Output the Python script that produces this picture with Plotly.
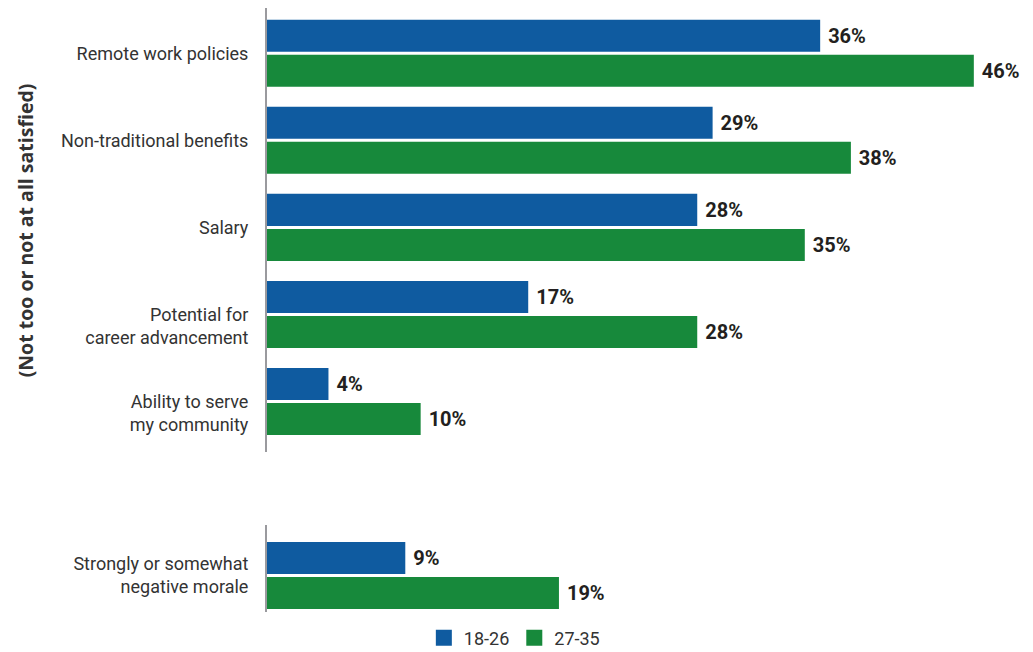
import plotly.graph_objects as go

# Survey results: share answering "not too / not at all satisfied", by age group
categories = [
    "Remote work policies",
    "Non-traditional benefits",
    "Salary",
    "<br>Potential for<br>career advancement",
    "<br>Ability to serve<br>my community",
]
young = [36, 29, 28, 17, 4]      # ages 18-26
older = [46, 38, 35, 28, 10]     # ages 27-35

morale_category = ["Strongly or somewhat<br>negative morale"]
morale_young = [9]
morale_older = [19]

series_names = ["18-26", "27-35"]
BLUE = "#0F5BA0"
GREEN = "#17893B"
LABEL_FONT = "Roboto, sans-serif"
TITLE_FONT = "Open Sans, Noto Sans, sans-serif"

fig = go.Figure()


def add_bars(ys, vals, color, name, yaxis, xaxis):
    fig.add_trace(go.Bar(
        y=ys, x=vals, orientation="h", name=name,
        marker=dict(color=color, line=dict(width=0)),
        text=[f"\u00a0{v}%" for v in vals],
        textposition="outside", constraintext="none", cliponaxis=False,
        textfont=dict(family=LABEL_FONT, size=20, color="#231F20", weight="bold"),
        xaxis=xaxis, yaxis=yaxis, showlegend=False, hoverinfo="skip",
    ))


add_bars(categories, young, BLUE, series_names[0], "y", "x")
add_bars(categories, older, GREEN, series_names[1], "y", "x")
add_bars(morale_category, morale_young, BLUE, series_names[0], "y2", "x2")
add_bars(morale_category, morale_older, GREEN, series_names[1], "y2", "x2")

# legend entries with larger square swatches
for name, color in zip(series_names, [BLUE, GREEN]):
    fig.add_trace(go.Scatter(
        x=[None], y=[None], mode="markers", name=name,
        marker=dict(symbol="square", size=16, color=color),
        xaxis="x", yaxis="y", showlegend=True,
    ))

axis_common = dict(
    showline=True, linecolor="#9A9A9E", linewidth=2, showgrid=False,
    zeroline=False, ticks="", ticklabelstandoff=13,
    tickfont=dict(family=LABEL_FONT, size=18, color="#333333"),
)

fig.update_layout(
    width=1033, height=652,
    margin=dict(l=267, r=10, t=8, b=40),
    paper_bgcolor="white", plot_bgcolor="white",
    barmode="group", bargap=0.195, bargroupgap=0.086,
    xaxis=dict(domain=[0, 1], range=[0, 49.2], visible=False, anchor="y"),
    xaxis2=dict(domain=[0, 1], range=[0, 49.2], visible=False, anchor="y2", matches="x"),
    yaxis=dict(domain=[0.2649, 1], anchor="x", type="category",
               range=[4.58, -0.52], **axis_common),
    yaxis2=dict(domain=[0, 0.144], anchor="x2", type="category",
                range=[0.42, -0.58], **axis_common),
    legend=dict(orientation="h", xref="container", yref="container",
                x=0.4103, xanchor="left", y=0.0215, yanchor="middle",
                font=dict(family=LABEL_FONT, size=18, color="#333333"),
                itemclick=False, itemdoubleclick=False),
    annotations=[dict(
        text="<b>(Not too or not at all satisfied)</b>",
        xref="paper", yref="paper", x=-0.320, y=0.632,
        xanchor="center", yanchor="middle", textangle=-90, showarrow=False,
        font=dict(family=TITLE_FONT, size=19.5, color="#333333"),
    )],
)

fig.write_html("out.html")
